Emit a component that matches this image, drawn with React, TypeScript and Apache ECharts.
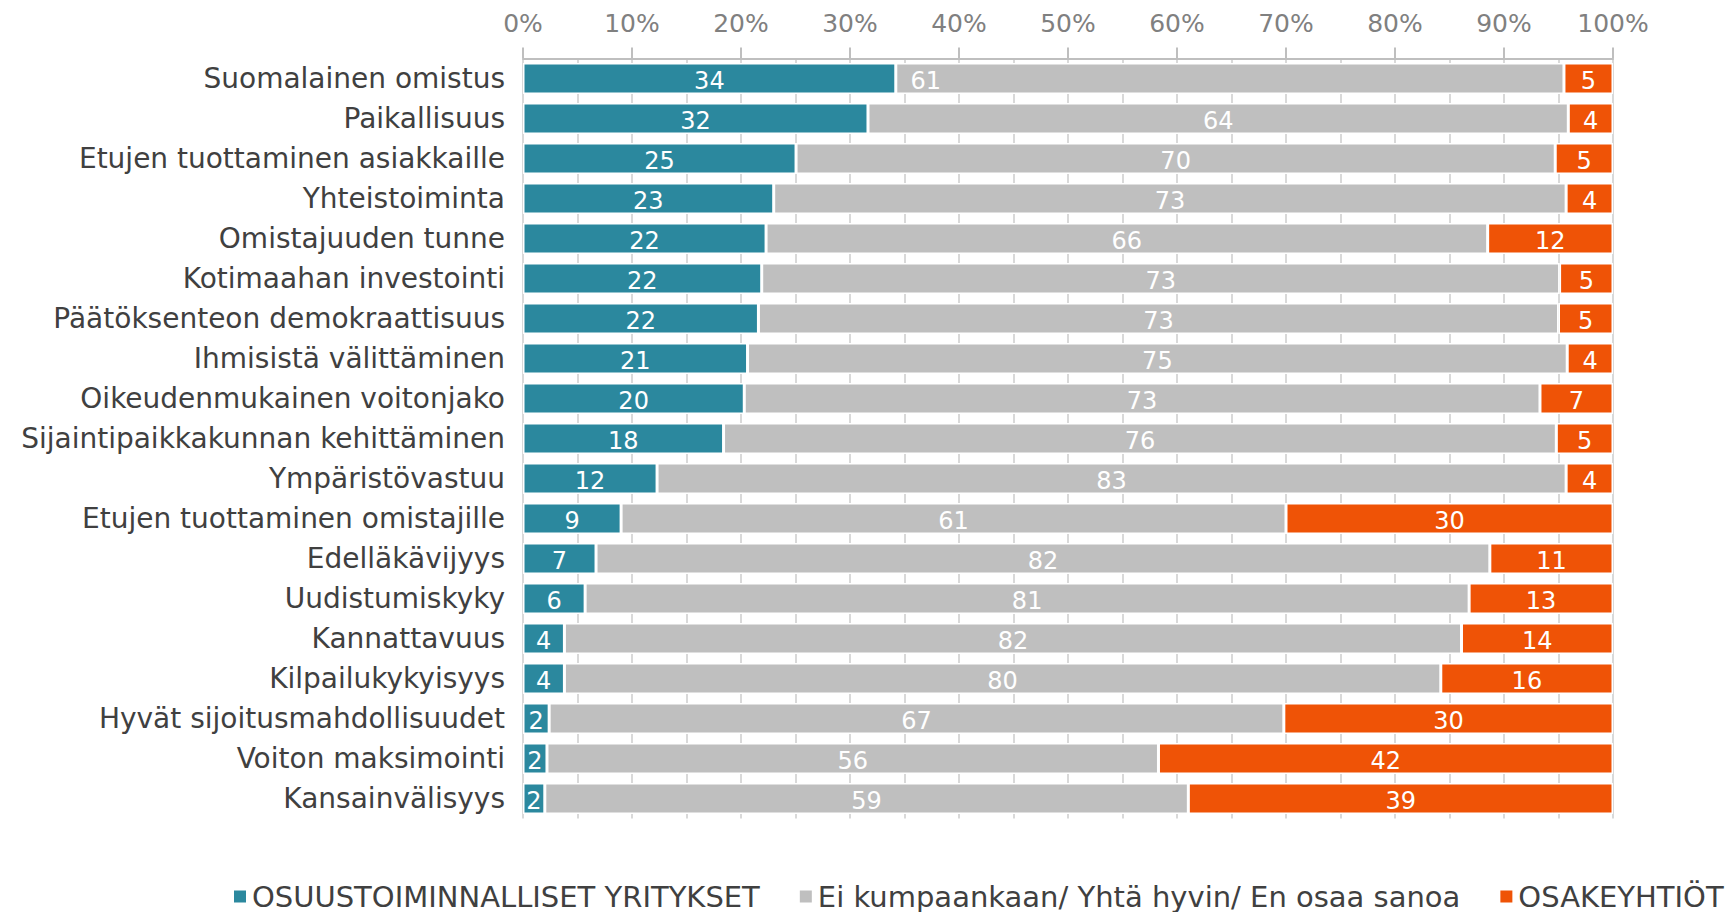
import React, { useEffect, useRef } from "react";
import * as echarts from "echarts";

const categories = [
  "Suomalainen omistus",
  "Paikallisuus",
  "Etujen tuottaminen asiakkaille",
  "Yhteistoiminta",
  "Omistajuuden tunne",
  "Kotimaahan investointi",
  "Päätöksenteon demokraattisuus",
  "Ihmisistä välittäminen",
  "Oikeudenmukainen voitonjako",
  "Sijaintipaikkakunnan kehittäminen",
  "Ympäristövastuu",
  "Etujen tuottaminen omistajille",
  "Edelläkävijyys",
  "Uudistumiskyky",
  "Kannattavuus",
  "Kilpailukykyisyys",
  "Hyvät sijoitusmahdollisuudet",
  "Voiton maksimointi",
  "Kansainvälisyys",
];

const seriesNames = [
  "OSUUSTOIMINNALLISET YRITYKSET",
  "Ei kumpaankaan/ Yhtä hyvin/ En osaa sanoa",
  "OSAKEYHTIÖT",
];

const osuustoiminnalliset = [34.2, 31.65, 25.05, 23.0, 22.3, 21.9, 21.6, 20.6, 20.3, 18.4, 12.3, 9.0, 6.7, 5.7, 3.8, 3.8, 2.4, 2.2, 2.0];
const eiKumpaankaan = [61.3, 64.25, 69.65, 72.7, 66.2, 73.2, 73.4, 75.2, 73.0, 76.4, 83.4, 61.0, 82.0, 81.1, 82.3, 80.4, 67.4, 56.1, 59.04];
const osakeyhtiot = [4.5, 4.1, 5.3, 4.3, 11.5, 4.9, 5.0, 4.2, 6.7, 5.2, 4.3, 30.0, 11.3, 13.2, 13.9, 15.8, 30.2, 41.7, 38.96];

const colors = ["#2B889E", "#BFBFBF", "#EF5306"];
const FONT = "DejaVu Sans";

export default function App() {
  const ref = useRef<HTMLDivElement>(null);
  useEffect(() => {
    if (!ref.current) return;
    const chart = echarts.init(ref.current, null, { renderer: "svg" });
    const label = {
      show: true,
      position: "inside",
      color: "#ffffff",
      fontSize: 24,
      fontFamily: FONT,
      offset: [0, 2],
      formatter: (p: any) => String(Math.round(p.value)),
    };
    const mk = (name: string, data: any[], color: string) => ({
      name,
      type: "bar",
      stack: "total",
      barWidth: 31,
      data,
      itemStyle: { color, borderColor: "#ffffff", borderWidth: 1.5 },
      label,
      emphasis: { disabled: true },
    });
    const grayData = eiKumpaankaan.map((v, i) =>
      i === 0 ? { value: v, label: { offset: [-304, 2] } } : v
    );
    chart.setOption({
      animation: false,
      backgroundColor: "#ffffff",
      textStyle: { fontFamily: FONT },
      legend: {
        data: seriesNames,
        left: 232,
        top: 882,
        width: 2000,
        padding: 0,
        itemGap: 38,
        itemWidth: 14,
        itemHeight: 14,
        icon: "rect",
        textStyle: { fontSize: 29, color: "#404040", fontFamily: FONT },
      },
      grid: { left: 523, right: 113, top: 58.5, height: 760, containLabel: false },
      xAxis: {
        type: "value",
        position: "top",
        min: 0,
        max: 100,
        interval: 10,
        axisLine: { show: true, lineStyle: { color: "#BFBFBF", width: 2 } },
        axisTick: { show: true, length: 11, lineStyle: { color: "#BFBFBF", width: 2 } },
        axisLabel: {
          formatter: "{value}%",
          color: "#808080",
          fontSize: 25,
          fontFamily: FONT,
          margin: 23,
        },
        splitLine: { show: true, lineStyle: { color: "#D9D9D9", width: 2 } },
        minorTick: { show: false, splitNumber: 2 },
        minorSplitLine: { show: true, lineStyle: { color: "#D9D9D9", width: 2 } },
      },
      yAxis: {
        type: "category",
        data: categories,
        inverse: true,
        axisLine: { show: false },
        axisTick: { show: false },
        axisLabel: { color: "#404040", fontSize: 28, fontFamily: FONT, margin: 18 },
      },
      series: [
        mk(seriesNames[0], osuustoiminnalliset, colors[0]),
        mk(seriesNames[1], grayData, colors[1]),
        mk(seriesNames[2], osakeyhtiot, colors[2]),
      ],
    });
    return () => chart.dispose();
  }, []);
  return (
    <div
      ref={ref}
      style={{ position: "fixed", left: 0, top: 0, width: 1726, height: 912, background: "#fff" }}
    />
  );
}
